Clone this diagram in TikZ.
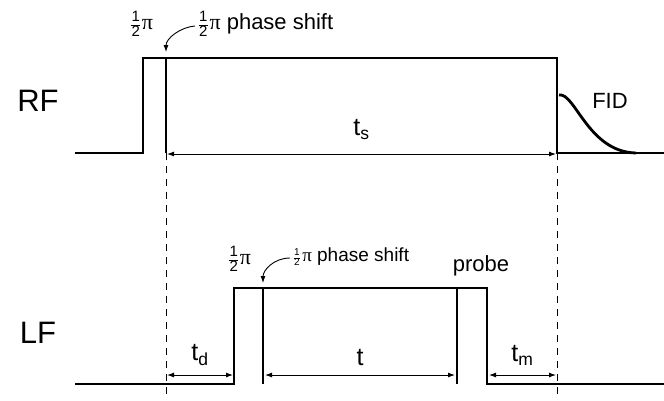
\documentclass[tikz,border=0pt]{standalone}
\usepackage{amsmath}
\usepackage{fontspec}
\setmainfont{Liberation Sans}
\newfontfamily\greekfont{Liberation Serif}
\usetikzlibrary{arrows.meta}

% fraction one half, built from a small table
\newcommand{\half}[1]{{\fontsize{#1}{#1}\selectfont\setlength{\tabcolsep}{0.6pt}%
    \setlength{\arrayrulewidth}{0.9pt}\renewcommand{\arraystretch}{0.95}%
    \begin{tabular}[c]{c}1\\\hline 2\end{tabular}}}
\newcommand{\halfpi}{\half{15}\kern1.5pt{\greekfont π}}
\newcommand{\smallhalfpi}{\half{10}\kern2pt{\greekfont π}}

\begin{document}
\begin{tikzpicture}[
    x=1pt, y=-1pt,
    wave/.style={
        draw,
        line width=2.8pt,
        line join=miter
    },
    guide/.style={
        draw,
        line width=0.8pt,
        dash pattern=on 7pt off 6pt
    },
    span/.style={
        draw,
        {Latex[length=7pt,width=5pt]}-{Latex[length=7pt,width=5pt]},
        line width=0.9pt
    },
    hint/.style={
        draw,
        -{Latex[length=7pt,width=5pt]},
        line width=0.9pt
    },
    chan/.style={font=\fontsize{31}{33}\selectfont},
    lbl/.style={font=\fontsize{22}{24}\selectfont},
    time/.style={font=\fontsize{25}{27}\selectfont},
    small lbl/.style={font=\fontsize{19}{21}\selectfont}
]
    \useasboundingbox (0,0) rectangle (664,400);

    % --- RF channel ---
    \node [chan] (rf) at (38,101) {RF};
    \path [wave] (75,153) -- (143,153) -- (143,58) -- (557,58) -- (557,153) -- (664,153);
    \path [wave] (166,58) -- (166,153);
    % free induction decay
    \path [wave] (559,95) .. controls (575,92) and (588,152) .. (636,153);
    \node [lbl] (fid) at (610,101) {FID};

    % --- LF channel ---
    \node [chan] (lf) at (38,333) {LF};
    \path [wave] (75,384) -- (234,384) -- (234,288) -- (487,288) -- (487,384) -- (664,384);
    \path [wave] (263,288) -- (263,384);
    \path [wave] (457,288) -- (457,384);

    % --- Timing marks ---
    \coordinate (rfmark) at (166,52);
    \coordinate (lfmark) at (263,283);
    \coordinate (ga) at (166,153);
    \coordinate (gb) at (557,153);
    \path [guide] (ga) -- (166,398);
    \path [guide] (gb) -- (557,398);

    \coordinate (tsa) at (167,154);
    \coordinate (tsb) at (556,154);
    \path [span] (tsa) -- node[above=11pt, time] (ts) {t$_\text{s}$} (tsb);

    \coordinate (tda) at (167,375);
    \coordinate (tdb) at (233,375);
    \coordinate (ta) at (265,375);
    \coordinate (tb) at (455,375);
    \coordinate (tma) at (489,375);
    \coordinate (tmb) at (556,375);
    \path [span] (tda) -- node[above=6pt, time] (td) {t$_\text{d}$} (tdb);
    \path [span] (ta) -- node[above=6pt, time] (tt) {t} (tb);
    \path [span] (tma) -- node[above=6pt, time] (tm) {t$_\text{m}$} (tmb);

    % --- Pulse labels ---
    \node [lbl] (rfpulse) at (142,26) {\halfpi};
    \node [lbl, anchor=west] (rfshift) at (195,26) {\halfpi\ phase shift};
    \path [hint] (rfshift.west) .. controls +(-14,1) and +(0,-14) .. (rfmark);

    \node [lbl] (lfpulse) at (240,261) {\halfpi};
    \node [small lbl, anchor=west] (lfshift) at (290,258) {\smallhalfpi\ phase shift};
    \path [hint] (lfshift.west) .. controls +(-16,0) and +(0,-13) .. (lfmark);
    \node [lbl] (probe) at (481,266) {probe};
\end{tikzpicture}
\end{document}
